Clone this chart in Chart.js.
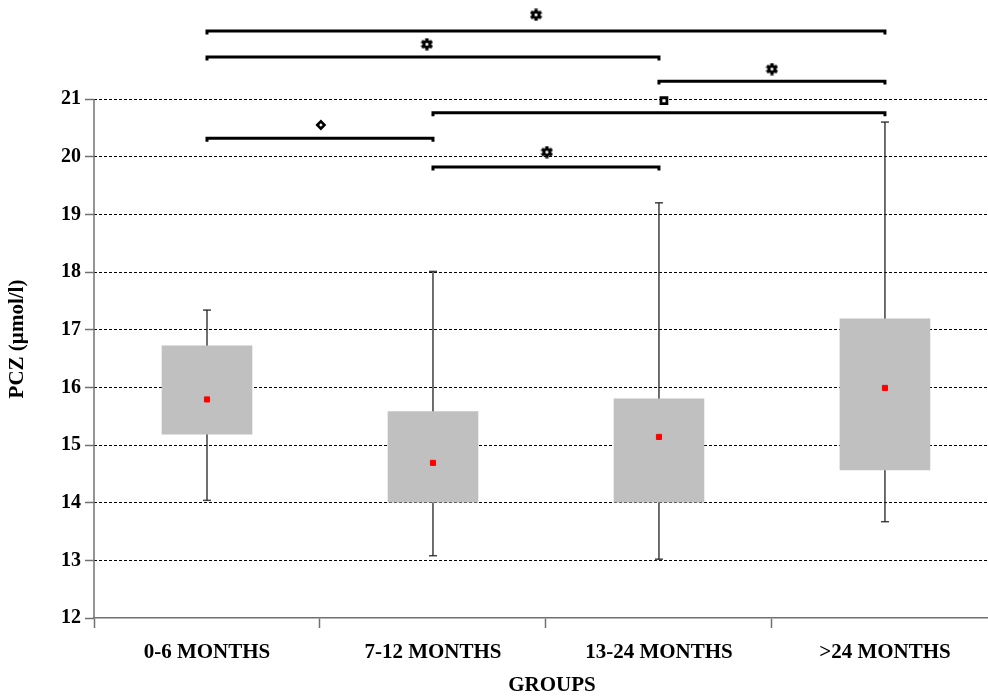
<!DOCTYPE html>
<html>
<head>
<meta charset="utf-8">
<title>PCZ by age group</title>
<script src="https://cdn.jsdelivr.net/npm/chart.js@4.4.1/dist/chart.umd.min.js"></script>
<style>
    body { margin: 0; background: #fff; }
    #wrap { width: 988px; height: 698px; }
</style>
</head>
<body>
<div id="wrap"><canvas id="pcz-chart" width="988" height="698"></canvas></div>
<script>
// Groups and box plot values (umol/l)
var categories = ['0-6 MONTHS', '7-12 MONTHS', '13-24 MONTHS', '>24 MONTHS'];
var whiskerLow = [14.04, 13.08, 13.02, 13.67];
var boxLow = [15.19, 14.01, 14.01, 14.57];
var boxHigh = [16.72, 15.58, 15.80, 17.19];
var whiskerHigh = [17.34, 18.01, 19.20, 20.60];
var means = [15.79, 14.69, 15.14, 15.99];
var yTicks = [12, 13, 14, 15, 16, 17, 18, 19, 20, 21];

// Significance brackets (group index from / to, height in umol/l)
var bracketFrom = [0, 0, 2, 1, 0, 1];
var bracketTo = [3, 2, 3, 3, 1, 2];
var bracketLevel = [22.18, 21.73, 21.31, 20.76, 20.32, 19.82];
var symbolX = [1.456, 0.973, 2.5, 2.022, 0.504, 1.504];
var symbolY = [22.46, 21.95, 21.52, 20.97, 20.55, 20.08];
var symbolKind = ['gear', 'gear', 'gear', 'square', 'diamond', 'gear'];

(function () {
    "use strict";

    var FONT = '"Liberation Serif", "Times New Roman", serif';
    var AXIS = '#707070';

    // small gear glyph used as point style
    var gear = document.createElement('canvas');
    gear.width = 13;
    gear.height = 13;
    var g = gear.getContext('2d');
    g.translate(6.5, 6.5);
    g.fillStyle = '#000';
    for (var k = 0; k < 6; k++) {
        g.rotate(Math.PI / 3);
        g.fillRect(-1.7, -6, 3.4, 3);
    }
    g.beginPath();
    g.arc(0, 0, 4.3, 0, Math.PI * 2);
    g.fill();
    g.globalCompositeOperation = 'destination-out';
    g.beginPath();
    g.arc(0, 0, 1.5, 0, Math.PI * 2);
    g.fill();

    var datasets = [];

    // Boxes
    datasets.push({
        type: 'bar',
        data: categories.map(function (c, i) { return {x: i, y: [boxLow[i], boxHigh[i]]}; }),
        backgroundColor: '#c0c0c0',
        borderWidth: 0,
        barThickness: 90,
        order: 2
    });

    // Whiskers
    var whisk = [];
    categories.forEach(function (c, i) {
        whisk.push({x: i, y: whiskerLow[i]}, {x: i, y: whiskerHigh[i]}, {x: i, y: null});
    });
    datasets.push({
        type: 'line',
        data: whisk,
        borderColor: '#222',
        borderWidth: 1.3,
        pointRadius: 0,
        spanGaps: false,
        order: 3
    });

    // Whisker caps
    var caps = [];
    categories.forEach(function (c, i) {
        caps.push({x: i, y: whiskerLow[i]}, {x: i, y: whiskerHigh[i]});
    });
    datasets.push({
        type: 'line',
        data: caps,
        showLine: false,
        pointStyle: 'line',
        pointRadius: 4,
        borderColor: '#444',
        borderWidth: 1.5,
        order: 3
    });

    // Means
    datasets.push({
        type: 'line',
        data: means.map(function (v, i) { return {x: i, y: v}; }),
        showLine: false,
        pointStyle: 'rect',
        pointRadius: 3.6,
        backgroundColor: '#ff0000',
        borderColor: '#ff0000',
        borderWidth: 1,
        order: 1
    });

    // Y axis line (only up to 21)
    datasets.push({
        type: 'line',
        data: [{x: -0.5, y: yTicks[0]}, {x: -0.5, y: yTicks[yTicks.length - 1]}],
        borderColor: AXIS,
        borderWidth: 1.5,
        pointRadius: 0,
        clip: false,
        order: 0
    });

    // Brackets
    bracketLevel.forEach(function (lv, i) {
        datasets.push({
            type: 'line',
            data: [
                {x: bracketFrom[i], y: lv - 0.06},
                {x: bracketFrom[i], y: lv},
                {x: bracketTo[i], y: lv},
                {x: bracketTo[i], y: lv - 0.06}
            ],
            borderColor: '#000',
            borderWidth: 3,
            borderJoinStyle: 'miter',
            pointRadius: 0,
            order: 0
        });
    });

    // Bracket symbols
    symbolKind.forEach(function (kind, i) {
        var style = kind === 'gear' ? gear : (kind === 'square' ? 'rect' : 'rectRot');
        datasets.push({
            type: 'line',
            data: [{x: symbolX[i], y: symbolY[i]}],
            showLine: false,
            pointStyle: style,
            pointRadius: kind === 'square' ? 4.2 : 3.6,
            backgroundColor: '#fff',
            borderColor: '#000',
            borderWidth: kind === 'square' ? 2.8 : 2.6,
            clip: false,
            order: 0
        });
    });

    // Axis titles
    var axisTitles = {
        id: 'axisTitles',
        afterDraw: function (chart) {
            var ctx = chart.ctx;
            ctx.save();
            ctx.fillStyle = '#000';
            ctx.font = 'bold 21px ' + FONT;
            ctx.textAlign = 'center';
            ctx.textBaseline = 'middle';
            ctx.fillText('GROUPS', 552, 686);
            ctx.translate(18, 339);
            ctx.rotate(-Math.PI / 2);
            ctx.fillText('PCZ (\u00b5mol/l)', 0, 0);
            ctx.restore();
        }
    };

    var tickVal = function (c) {
        return c.tick ? c.tick.value : null;
    };

    var noPadding = function (scale) {
        scale.paddingTop = 0;
        scale.paddingBottom = 0;
        scale.paddingLeft = 0;
        scale.paddingRight = 0;
    };

    var ctx = document.getElementById('pcz-chart').getContext('2d');
    var pczChart = new Chart(ctx, {
        type: 'bar',
        data: {datasets: datasets},
        options: {
            responsive: false,
            animation: false,
            layout: {padding: 0, autoPadding: false},
            plugins: {
                legend: {display: false},
                tooltip: {enabled: false}
            },
            scales: {
                x: {
                    type: 'linear',
                    min: -0.5,
                    max: 3.456,
                    offset: false,
                    afterBuildTicks: function (scale) {
                        scale.ticks = [-0.5, 0, 0.5, 1, 1.5, 2, 2.5, 3].map(function (v) { return {value: v}; });
                    },
                    afterFit: function (scale) {
                        scale.height = 80;
                        noPadding(scale);
                    },
                    ticks: {
                        autoSkip: false,
                        maxRotation: 0,
                        padding: 12,
                        color: '#000',
                        font: {family: FONT, size: 21, weight: 'bold'},
                        callback: function (v) {
                            return Number.isInteger(v) ? categories[v] : '';
                        }
                    },
                    grid: {
                        offset: false,
                        drawOnChartArea: false,
                        tickLength: 10,
                        tickWidth: 1.5,
                        tickColor: function (c) {
                            var v = tickVal(c);
                            return v === null || Number.isInteger(v) ? 'transparent' : AXIS;
                        }
                    },
                    border: {color: AXIS, width: 1.5}
                },
                y: {
                    min: 12,
                    max: 22.717,
                    afterBuildTicks: function (scale) {
                        scale.ticks = yTicks.map(function (v) { return {value: v}; });
                    },
                    afterFit: function (scale) {
                        scale.width = 94;
                        noPadding(scale);
                    },
                    ticks: {
                        autoSkip: false,
                        padding: 4,
                        color: '#000',
                        font: {family: FONT, size: 20, weight: 'bold'}
                    },
                    grid: {
                        color: function (c) {
                            return tickVal(c) === 12 ? 'transparent' : '#000';
                        },
                        lineWidth: 1,
                        tickLength: 9,
                        tickWidth: 1.5,
                        tickColor: AXIS
                    },
                    border: {display: false, dash: [3, 2]}
                }
            }
        },
        plugins: [axisTitles]
    });
})();
</script>
</body>
</html>
